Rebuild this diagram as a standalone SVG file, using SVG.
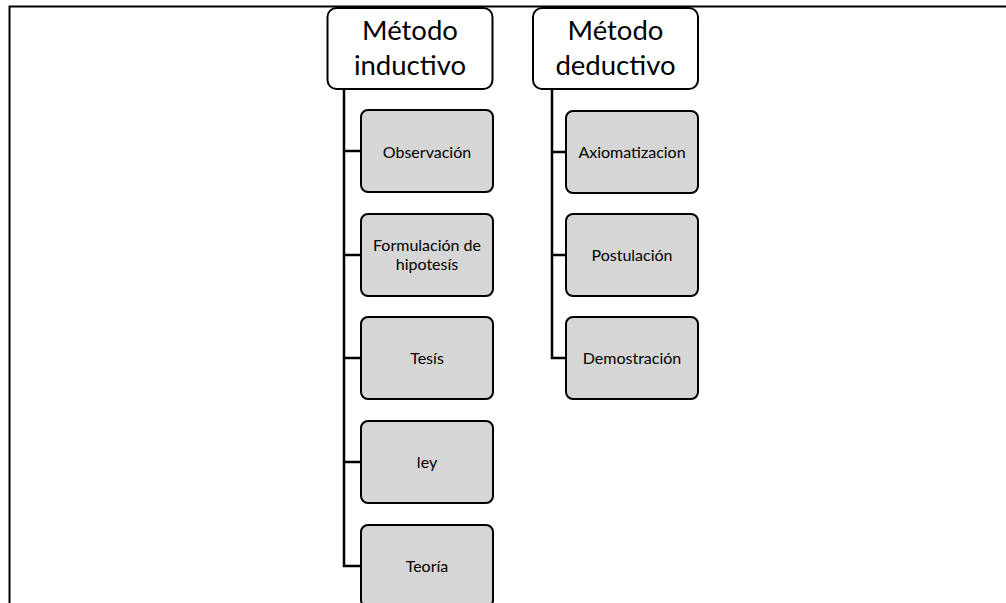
<svg xmlns="http://www.w3.org/2000/svg" width="1006" height="603" viewBox="0 0 1006 603">
<style>
.head{fill:#ffffff;stroke:#000000;stroke-width:2}
.child{fill:#d6d6d6;stroke:#000000;stroke-width:2}
.ht{font-family:Lato,"Liberation Sans",sans-serif;font-size:27.5px;fill:#000000;text-anchor:middle}
.ct{font-family:Lato,"Liberation Sans",sans-serif;font-size:16px;fill:#000000;text-anchor:middle}
.conn{fill:none;stroke:#000000;stroke-width:2.5}
</style>
<rect width="1006" height="603" fill="#ffffff"/>
<path d="M9.5 603 V6.5 H1006" fill="none" stroke="#000000" stroke-width="2"/>
<g id="connectors">
<path class="conn" d="M344 89 V566 H361 M344 151 H361 M344 255 H361 M344 358 H361 M344 462 H361"/>
<path class="conn" d="M552 89 V358 H566 M552 152 H566 M552 255 H566"/>
</g>
<g id="inductivo">
<rect class="head" x="327.5" y="8" width="165" height="81" rx="9"/>
<text class="ht" x="410" y="40">Método</text>
<text class="ht" x="410" y="75">inductivo</text>
</g>
<g id="deductivo">
<rect class="head" x="533" y="8" width="165" height="81" rx="9"/>
<text class="ht" x="615.5" y="40">Método</text>
<text class="ht" x="615.5" y="75">deductivo</text>
</g>
<g id="observacion">
<rect class="child" x="361" y="110" width="132" height="82" rx="7"/>
<text class="ct" x="427" y="158">Observación</text>
</g>
<g id="formulacion">
<rect class="child" x="361" y="214" width="132" height="82" rx="7"/>
<text class="ct" x="427" y="251">Formulación de</text>
<text class="ct" x="427" y="270">hipotesís</text>
</g>
<g id="tesis">
<rect class="child" x="361" y="317" width="132" height="82" rx="7"/>
<text class="ct" x="427" y="364">Tesís</text>
</g>
<g id="ley">
<rect class="child" x="361" y="421" width="132" height="82" rx="7"/>
<text class="ct" x="427" y="468">ley</text>
</g>
<g id="teoria">
<rect class="child" x="361" y="525" width="132" height="82" rx="7"/>
<text class="ct" x="427" y="572">Teoría</text>
</g>
<g id="axiomatizacion">
<rect class="child" x="566" y="111" width="132" height="82" rx="7"/>
<text class="ct" x="632" y="158">Axiomatizacion</text>
</g>
<g id="postulacion">
<rect class="child" x="566" y="214" width="132" height="82" rx="7"/>
<text class="ct" x="632" y="261">Postulación</text>
</g>
<g id="demostracion">
<rect class="child" x="566" y="317" width="132" height="82" rx="7"/>
<text class="ct" x="632" y="364">Demostración</text>
</g>
</svg>
